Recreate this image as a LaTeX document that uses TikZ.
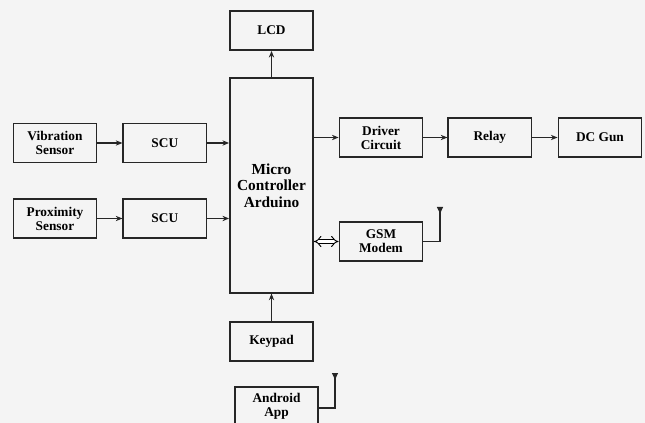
\documentclass[tikz,border=0pt]{standalone}
\usepackage{fontspec}
\setmainfont{Liberation Serif}
\usepackage{tikz}
\usetikzlibrary{arrows.meta, positioning, calc}
\definecolor{paper}{RGB}{244,244,244}
\tikzstyle{blk} = [
    rectangle, minimum width=62.5pt, minimum height=29.5pt, inner sep=1pt,
    align=center, draw=black!85, line width=1.1pt, fill=paper,
    font=\bfseries\fontsize{10}{10.5}\selectfont
]
\tikzstyle{arrow} = [-{Stealth[length=5pt, width=4pt]}, line width=1pt, draw=black!85]
\tikzstyle{antenna} = [-{Triangle[reversed, length=5pt, width=4.5pt]}, line width=1pt, draw=black!85]

\begin{document}
\begin{tikzpicture}[x=0.75pt, y=-0.75pt]
        \fill[paper] (0,0) rectangle (645,423);
        \useasboundingbox (0,0) rectangle (645,423);
        \clip (0,0) rectangle (645,423);

        \node[blk, minimum height=161pt,
              font=\bfseries\fontsize{11.5}{12.5}\selectfont] (mc) at (271.5,185.5)
            {Micro\\Controller\\Arduino};
        \node[blk] (lcd) at (271.5,30.5) {LCD};
        \node[blk] (key) at (271.5,341.5) {Keypad};
        \node[blk] (app) at (276.5,406.5) {Android\\App};

        \node[blk] (vib) at (55,143) {Vibration\\Sensor};
        \node[blk, right=18.75pt of vib] (scua) {SCU};
        \node[blk] (prox) at (55,218.5) {Proximity\\Sensor};
        \node[blk, right=18.75pt of prox] (scub) {SCU};

        \node[blk] (drv) at (381,137.5) {Driver\\Circuit};
        \node[blk, right=18pt of drv] (relay) {Relay};
        \node[blk, right=19pt of relay] (gun) {DC Gun};
        \node[blk] (gsm) at (381,241.5) {GSM\\Modem};

        \draw[arrow] (vib) -- (scua);
        \draw[arrow] (scua.east) -- (scua.east -| mc.west);
        \draw[arrow] (prox) -- (scub);
        \draw[arrow] (scub.east) -- (scub.east -| mc.west);
        \draw[arrow] (mc) -- (lcd);
        \draw[arrow] (key) -- (mc);
        \draw[arrow] (mc.east |- drv.west) -- (drv.west);
        \draw[arrow] (drv) -- (relay);
        \draw[arrow] (relay) -- (gun);
        \draw[double=white, double distance=2.2pt, line width=0.7pt,
              {Implies}-{Implies}] (mc.east |- gsm.west) -- (gsm.west);

        % antennas
        \coordinate (gsmant) at (440,207);
        \coordinate (appant) at (335,373);
        \draw[antenna] (gsm.east) -| (gsmant);
        \draw[antenna] (app.east |- 0,408) -| (appant);
    \end{tikzpicture}
\end{document}
